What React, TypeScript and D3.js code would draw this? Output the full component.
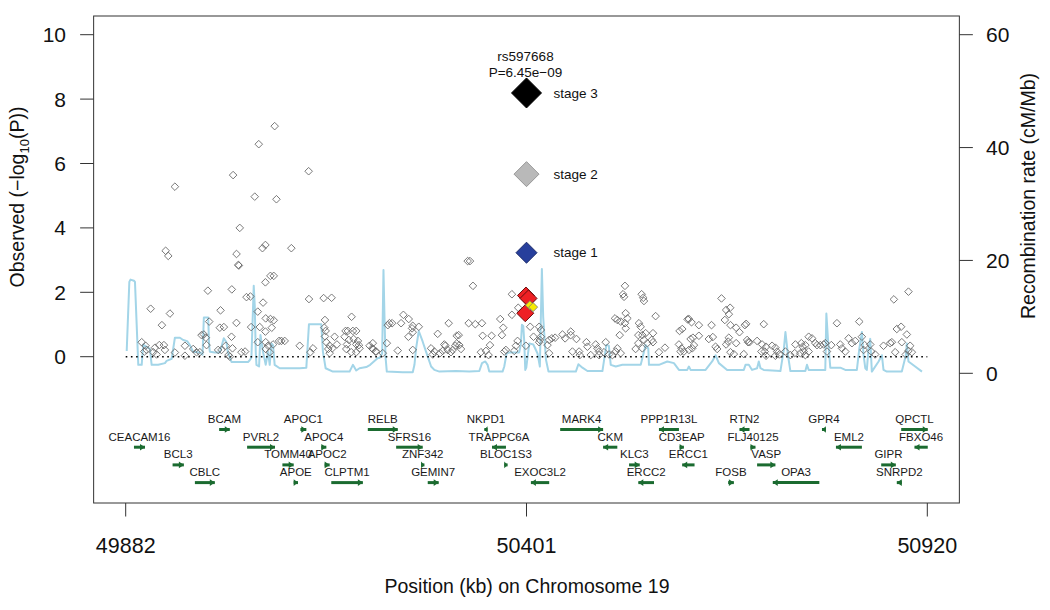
import React from "react";
import * as d3 from "d3";

// ---------- DATA ----------
const xTicks = [49882, 50401, 50920];
const yTicks = [0, 2, 4, 6, 8, 10];
const recombTicks = [0, 20, 40, 60];

// gray SNPs: [position kb, -log10 P]
const snps: [number, number][] = [
  [49902.7,0.45],[49907.8,0.34],[49909.1,0.21],[49906.1,0.16],[49914.3,1.49],[49919.9,0.28],[49925.5,0.36],[49917.7,0.14],
  [49922.0,0.07],[49931.5,0.36],[49932.8,0.21],[49928.9,0.98],[49939.3,1.34],[49945.7,0.13],[49958.7,0.34],[49958.7,0.03],
  [49969.4,0.24],[49973.7,0.14],[49978.0,0.14],[49980.2,0.67],[49983.2,0.69],[49985.8,0.59],[49986.7,0.36],[49990.1,1.09],
  [49988.4,2.05],[50004.8,1.44],[50003.9,0.90],[50009.1,0.92],[50001.7,0.21],[50006.0,0.21],[50011.6,0.34],[50015.1,0.05],
  [50016.8,0.0],[50019.0,0.62],[50020.3,0.26],[50019.4,2.09],[50025.4,1.05],[50031.9,0.14],[50036.6,0.16],[50038.4,1.85],
  [50043.5,1.87],[50044.4,0.92],[50053.0,1.40],[50059.9,1.68],[50055.6,0.92],[50063.3,1.19],[50069.4,1.17],[50073.7,1.13],
  [50062.9,0.78],[50071.1,0.90],[50053.0,0.45],[50063.3,0.45],[50066.4,0.34],[50068.5,0.14],[50063.3,0.24],[50072.8,0.38],
  [50080.6,0.49],[50083.6,0.49],[50087.9,0.49],[50107.3,0.34],[50119.3,1.79],[50124.5,0.26],[50121.1,0.14],[50138.3,1.82],
  [50148.6,1.83],[50140.0,1.14],[50139.2,0.90],[50140.9,0.80],[50140.0,0.63],[50141.8,0.45],[50146.1,0.34],[50144.3,0.24],
  [50149.5,0.26],[50152.5,0.62],[50155.5,0.38],[50146.1,0.11],[50174.5,1.24],[50166.7,0.80],[50169.7,0.80],[50176.2,0.80],
  [50180.5,0.80],[50165.4,0.62],[50171.0,0.52],[50177.1,0.55],[50182.7,0.49],[50168.5,0.38],[50180.5,0.38],[50184.0,0.36],
  [50167.6,0.24],[50174.1,0.14],[50180.5,0.14],[50184.8,0.26],[50197.8,0.34],[50202.1,0.24],[50206.4,0.16],
  [49933.7,3.29],[49937.1,3.13],[49945.7,5.28],[50021.1,5.64],[50054.3,6.6],[50074.9,7.16],[50049.1,4.97],[50077.2,4.89],
  [50118.9,5.76],[50029.7,4.0],[50059.1,3.37],[50062.9,3.47],[50096.5,3.37],[50025.5,3.19],[50027.8,2.85],[50028.5,2.83],
  [50062.9,2.31],[50069.4,2.51],[50073.7,2.51],
  [50324.8,2.97],[50327.8,2.97],[50331.7,2.20],[50382.1,1.94],[50390.3,1.52],[50382.1,1.30],[50367.0,1.17],[50370.9,0.90],
  [50369.2,0.67],[50223.5,1.04],[50221.4,0.98],[50227.0,1.04],[50241.6,1.30],[50248.5,1.17],[50238.6,1.04],[50253.7,0.96],
  [50252.8,0.88],[50261.5,0.93],[50248.1,0.62],[50253.7,0.76],[50220.1,0.42],[50234.3,0.19],[50253.7,0.21],[50202.0,0.42],
  [50201.1,0.26],[50205.5,0.16],[50214.9,0.11],[50286.0,0.71],[50300.2,1.04],[50277.4,0.26],[50281.7,0.16],[50289.0,0.11],
  [50294.6,0.38],[50298.9,0.21],[50295.9,0.34],[50303.2,0.14],[50308.8,0.34],[50310.6,0.41],[50314.0,0.36],[50313.2,0.67],
  [50310.6,0.65],[50316.2,0.24],[50305.4,0.21],[50292.5,0.18],[50279.6,0.07],[50326.1,1.04],[50334.7,1.01],[50343.3,1.04],
  [50344.2,0.65],[50355.8,0.65],[50353.7,0.36],[50342.0,0.14],[50348.5,0.18],[50351.9,0.05],[50372.2,0.16],[50374.3,0.21],
  [50387.3,0.34],[50385.1,0.18],[50389.4,0.49],[50400.2,0.34],[50405.8,0.93],[50417.4,0.93],[50419.6,0.83],[50410.1,0.62],
  [50419.6,0.62],[50418.3,0.52],[50417.4,0.45],[50430.3,0.52],[50433.8,0.57],[50438.1,0.59],[50430.3,0.11],[50428.2,0.36],
  [50447.6,0.69],[50451.0,0.57],[50458.3,0.78],[50458.3,0.67],[50465.7,0.55],[50460.5,0.16],[50469.1,0.16],[50470.0,0.05],
  [50478.6,0.45],[50479.9,0.31],[50484.2,0.05],[50490.6,0.38],[50492.8,0.26],[50494.9,0.16],[50494.9,0.05],[50503.6,0.45],
  [50501.4,0.14],[50507.9,0.07],[50516.5,0.16],[50512.2,0.05],[50518.6,0.26],[50523.0,0.11],[50528.5,2.20],[50526.0,1.94],
  [50527.3,1.86],[50550.1,1.94],[50552.2,1.83],[50553.1,1.73],[50515.6,1.19],[50518.6,1.14],[50523.0,1.09],[50529.4,1.35],
  [50531.6,1.19],[50528.5,1.04],[50529.4,0.88],[50521.7,0.67],[50546.6,1.04],[50548.8,0.93],[50545.8,0.67],[50551.0,0.67],
  [50555.3,0.73],[50553.1,0.52],[50545.8,0.42],[50557.4,0.42],[50542.3,0.24],[50551.0,0.26],[50609.6,1.16],
  [50568.2,1.26],[50564.8,0.73],[50563.1,0.52],[50564.8,0.45],[50572.5,0.14],[50580.3,0.28],[50653.5,1.81],[50659.5,1.45],
  [50664.7,1.52],[50663.0,1.32],[50657.8,1.14],[50665.1,0.98],[50672.5,0.90],[50676.8,0.76],[50685.4,1.02],[50683.7,0.98],
  [50663.0,0.59],[50659.5,0.38],[50662.1,0.47],[50672.5,0.42],[50688.0,0.45],[50686.7,0.52],[50689.7,0.45],[50682.4,0.08],
  [50669.5,0.08],[50665.1,0.14],[50599.2,0.80],[50602.7,0.86],[50611.3,1.17],[50614.7,1.07],[50624.2,0.98],[50616.5,0.59],
  [50624.2,0.65],[50613.5,0.55],[50598.4,0.38],[50601.8,0.26],[50600.5,0.16],[50617.8,0.36],[50615.6,0.26],[50611.3,0.21],
  [50604.8,0.16],[50637.1,0.55],[50642.3,0.61],[50640.6,0.98],[50647.9,0.24],[50645.8,0.31],[50708.2,1.01],[50699.6,0.49],
  [50706.1,0.38],[50711.2,0.31],[50705.2,0.16],[50709.5,0.16],[50711.2,0.03],[50719.0,0.34],[50723.3,0.28],[50725.5,0.16],
  [50723.3,0.03],[50728.5,0.07],[50736.2,0.16],[50742.7,0.05],[50749.2,0.38],[50748.3,0.11],[50756.9,0.42],[50758.6,0.31],
  [50762.1,0.36],[50759.9,0.16],[50766.4,0.62],[50770.7,0.57],[50775.0,0.42],[50777.2,0.36],[50781.5,0.36],[50785.8,0.38],
  [50787.9,0.42],[50795.7,0.36],[50790.1,0.16],[50766.4,0.16],[50755.6,0.11],[50762.1,0.05],[50803.0,1.04],[50807.3,0.38],
  [50809.5,0.26],[50813.8,0.16],[50818.1,0.57],[50822.4,0.42],[50826.7,0.49],[50831.9,1.09],[50835.3,0.62],[50838.8,0.36],
  [50837.5,0.21],[50846.1,0.38],[50847.4,0.16],[50852.5,0.07],[50863.3,0.34],[50871.9,0.42],[50874.1,0.45],[50880.5,0.86],
  [50886.1,0.93],[50893.5,0.69],[50887.0,0.45],[50878.4,0.14],[50876.7,1.78],[50895.6,2.02],[50897.8,0.34],[50895.6,0.18],
  [50892.2,0.07],[50900.0,0.14]
];

// highlighted SNPs
const redSnps: [number, number][] = [[50400.3,1.90],[50403.6,1.81],[50399.4,1.35]];
const yellowSnps: [number, number][] = [[50405.4,1.60],[50409.6,1.54]];
const stageNames = ["stage 1", "stage 2", "stage 3"];
const stageLogP = [3.23, 5.67, 8.19];
const stagePos = 50401;
const leadSnp = "rs597668";
const leadP = "P=6.45e\u221209";

// recombination rate: [position kb, cM/Mb]
const recomb: [number, number][] = [
  [49883.3,3.95],[49886.7,16.2],[49888.2,16.6],[49892.7,16.4],[49894.0,16.2],[49898.3,1.5],[49902.7,1.5],[49904.7,5.1],
  [49909.1,4.7],[49913.4,4.3],[49915.6,1.5],[49924.1,1.5],[49932.8,1.8],[49935.0,2.2],[49941.5,2.55],[49945.7,6.3],
  [49952.2,6.3],[49956.4,5.9],[49961.6,5.7],[49965.1,5.0],[49969.4,3.8],[49978.0,3.7],[49981.5,3.3],[49983.2,9.9],
  [49988.8,9.9],[49990.0,5.0],[49991.0,3.8],[49997.4,3.7],[50003.9,3.7],[50009.0,6.2],[50012.5,5.5],[50014.2,3.8],
  [50019.0,2.0],[50034.0,2.0],[50040.4,2.0],[50042.6,2.3],[50044.8,2.8],[50047.8,15.5],[50049.1,12.0],[50050.4,3.8],
  [50051.3,1.5],[50054.7,1.2],[50056.5,6.8],[50059.8,3.8],[50063.3,1.5],[50066.3,3.8],[50068.5,1.5],[50070.7,5.3],
  [50072.8,5.0],[50074.9,1.5],[50081.4,0.9],[50107.3,0.9],[50115.9,1.0],[50119.3,8.7],[50135.3,8.7],[50137.4,3.8],
  [50140.9,0.9],[50150.3,0.3],[50171.9,0.3],[50176.2,1.5],[50180.5,0.5],[50184.8,0.9],[50193.5,1.1],[50198.6,1.5],
  [50208.5,2.7],[50210.6,2.7],[50214.1,3.5],[50215.8,18.3],[50217.1,10],[50218.4,3.0],[50220.1,0.3],[50240.8,0.2],
  [50253.7,0.2],[50255.9,1.5],[50258.1,4.5],[50261.5,7.5],[50266.6,5.6],[50271.0,3.8],[50277.5,1.2],[50281.7,0.6],
  [50288.2,0.3],[50309.8,0.4],[50326.9,0.3],[50339.9,0.4],[50343.4,1.8],[50347.7,2.1],[50350.6,1.5],[50352.8,0.3],
  [50370.0,0.3],[50372.2,1.2],[50375.2,3.5],[50378.7,3.7],[50391.6,3.7],[50393.8,5.3],[50395.1,8.6],[50396.8,8.4],
  [50398.1,5.6],[50399.4,0.6],[50400.7,1.0],[50404.6,5.3],[50409.8,5.1],[50415.3,3.5],[50418.3,1.2],[50420.9,18.5],
  [50422.6,10],[50426.1,2.5],[50429.5,0.3],[50464.9,0.3],[50468.2,1.6],[50473.4,1.0],[50479.9,0.4],[50499.3,0.4],
  [50504.4,5.0],[50507.6,4.9],[50510.1,1.5],[50516.6,1.2],[50525.1,1.5],[50542.4,1.5],[50548.9,1.5],[50555.3,5.0],
  [50558.7,4.4],[50559.6,1.5],[50572.5,1.5],[50583.3,2.1],[50591.9,1.8],[50598.4,0.6],[50609.1,0.6],[50611.3,1.2],
  [50613.5,0.6],[50632.9,0.6],[50641.4,2.1],[50645.8,3.2],[50650.1,1.8],[50660.8,0.6],[50682.4,0.6],[50684.6,1.5],
  [50688.9,1.5],[50693.1,0.6],[50699.6,0.9],[50701.8,2.1],[50704.0,0.9],[50708.2,0.6],[50729.8,0.4],[50734.1,4.1],
  [50736.3,7.3],[50739.6,3.2],[50742.7,0.4],[50762.1,0.4],[50764.2,1.5],[50766.4,0.6],[50787.9,0.6],[50789.3,10.6],
  [50791.3,6.2],[50794.4,1.0],[50807.4,1.0],[50813.8,0.6],[50828.8,0.6],[50832.0,4.4],[50835.3,7.3],[50837.5,3.2],
  [50839.7,0.9],[50841.7,0.6],[50843.9,4.4],[50846.1,6.1],[50848.2,0.3],[50856.9,2.1],[50861.2,3.2],[50863.3,0.6],
  [50867.6,0.3],[50887.0,0.3],[50892.2,3.2],[50893.5,5.3],[50895.6,2.1],[50904.3,1.2],[50913.1,0.3]
];

// genes: name, start kb, end kb, strand, row
const geneNames = ["CEACAM16","BCAM","BCL3","CBLC","PVRL2","APOC1","APOC4","TOMM40","APOC2","APOE","CLPTM1","RELB",
  "SFRS16","ZNF342","GEMIN7","NKPD1","TRAPPC6A","BLOC1S3","EXOC3L2","MARK4","CKM","KLC3","ERCC2","PPP1R13L","CD3EAP",
  "ERCC1","RTN2","FLJ40125","VASP","FOSB","OPA3","GPR4","EML2","GIPR","SNRPD2","QPCTL","FBXO46"];
const geneStart = [49892.7,50003.0,49942.7,49971.6,50039.2,50108.2,50135.3,50084.9,50139.6,50099.5,50148.2,50195.5,
  50232.2,50264.5,50273.1,50346.4,50356.3,50372.2,50406.7,50444.6,50500.2,50533.8,50545.8,50572.5,50599.3,
  50602.6,50676.8,50691.0,50699.6,50662.1,50719.9,50783.6,50801.7,50860.3,50880.5,50886.2,50903.4];
const geneEnd = [49907.0,50016.8,49957.3,49997.4,50075.3,50115.9,50141.8,50099.5,50146.1,50105.1,50189.1,50234.3,
  50266.6,50268.8,50287.3,50350.6,50374.4,50376.5,50430.4,50500.2,50518.6,50547.6,50566.1,50598.4,50604.8,
  50618.6,50689.8,50697.5,50723.3,50669.5,50780.2,50788.7,50835.3,50879.2,50887.0,50920.6,50920.6];
const geneStrand = [1,1,1,1,1,1,1,1,1,1,1,1, 1,1,1,-1,-1,1,-1,1,-1,1,-1,-1,1, -1,-1,1,1,1,-1,-1,-1,1,-1,1,-1];
const geneRow = [1,0,2,3,1,0,1,2,2,3,3,0, 1,2,3,0,1,2,3,0,1,2,3,0,1, 2,0,1,2,3,3,0,1,2,3,0,1];

// ---------- LAYOUT ----------
const W = 1050, H = 610;
const FONT = "Arial, 'Liberation Sans', Helvetica, sans-serif";
const GREEN = "#1b6b30";

const x = d3.scaleLinear().domain([49882, 50920]).range([125.7, 927.3]);
const y = d3.scaleLinear().domain([0, 10]).range([356.7, 34.7]);
const yr = d3.scaleLinear().domain([0, 60]).range([373.3, 34.7]);
const pad = (50920 - 49882) * 0.04;
const frameL = x(49882 - pad), frameR = x(50920 + pad);
const frameT = 16, frameB = 503;
const rowY0 = 429.5, rowStep = 17.7;

const diamond = (cx: number, cy: number, r: number) =>
  `M${cx},${cy - r}L${cx + r},${cy}L${cx},${cy + r}L${cx - r},${cy}Z`;

export default function App() {
  const recombLine = d3.line<[number, number]>().x(d => x(d[0])).y(d => yr(d[1]))(recomb) || "";
  const stageFill = ["#273f9c", "#b9b9b9", "#000000"];
  const stageStroke = ["#1a2a6a", "#999999", "#000000"];
  const stageR = [10.5, 12.5, 15];

  return (
    <svg width={W} height={H} style={{ position: "absolute", left: 0, top: 0, background: "#fff" }}
      fontFamily={FONT}>
      <rect x={0} y={0} width={W} height={H} fill="#fff" />
      {/* recombination line */}
      <path d={recombLine} fill="none" stroke="#a3d5e8" strokeWidth={2} strokeLinejoin="round" />
      {/* zero dotted line */}
      <line x1={x(49882)} x2={x(50920)} y1={y(0)} y2={y(0)} stroke="#000" strokeWidth={1.6}
        strokeDasharray="1.6,3.6" />
      {/* gray snps */}
      {snps.map((d, i) => (
        <path key={i} d={diamond(x(d[0]), y(d[1]), 3.8)} fill="none" stroke="#6a6a6a" strokeWidth={0.9} />
      ))}
      {/* red and yellow */}
      {redSnps.map((d, i) => (
        <path key={"r" + i} d={diamond(x(d[0]), y(d[1]), 8.5)} fill="#ee2024" stroke="#6a1010" strokeWidth={1} />
      ))}
      {yellowSnps.map((d, i) => (
        <path key={"yy" + i} d={diamond(x(d[0]), y(d[1]), 4.5)} fill="#f6ea00" stroke="#777" strokeWidth={0.8} />
      ))}
      {/* stages */}
      {stageLogP.map((v, i) => (
        <g key={"s" + i}>
          <path d={diamond(x(stagePos), y(v), stageR[i])} fill={stageFill[i]} stroke={stageStroke[i]} strokeWidth={1} />
          <text x={x(stagePos) + 27} y={y(v) + 4.8} fontSize={13.5} fill="#111">{stageNames[i]}</text>
        </g>
      ))}
      <text x={x(stagePos) - 1} y={61} fontSize={13.5} textAnchor="middle" fill="#111">{leadSnp}</text>
      <text x={x(stagePos) - 1} y={76.5} fontSize={13.5} textAnchor="middle" fill="#111">{leadP}</text>

      {/* genes */}
      {geneNames.map((g, i) => {
        const x1 = x(geneStart[i]), x2 = x(geneEnd[i]);
        const cy = rowY0 + geneRow[i] * rowStep;
        const head = 5, hh = 3.3;
        const tip = geneStrand[i] > 0 ? x2 : x1;
        const base = tip - geneStrand[i] * Math.min(head, Math.max(x2 - x1, 3));
        return (
          <g key={"g" + i}>
            <line x1={x1} x2={x2} y1={cy} y2={cy} stroke={GREEN} strokeWidth={3} />
            <path d={`M${tip},${cy}L${base},${cy - hh}L${base},${cy + hh}Z`} fill={GREEN} />
            <text x={(x1 + x2) / 2} y={cy - 6.5} fontSize={11.5} textAnchor="middle" fill="#1a1a1a">{g}</text>
          </g>
        );
      })}

      {/* frame */}
      <rect x={frameL} y={frameT} width={frameR - frameL} height={frameB - frameT} fill="none" stroke="#333" strokeWidth={1} />

      {/* left axis */}
      {yTicks.map(t => (
        <g key={"yt" + t}>
          <line x1={frameL - 13.5} x2={frameL} y1={y(t)} y2={y(t)} stroke="#333" strokeWidth={1} />
          <text x={66} y={y(t) + 7.5} fontSize={21} textAnchor="end" fill="#111">{t}</text>
        </g>
      ))}
      {/* right axis */}
      {recombTicks.map(t => (
        <g key={"rt" + t}>
          <line x1={frameR} x2={frameR + 13.5} y1={yr(t)} y2={yr(t)} stroke="#333" strokeWidth={1} />
          <text x={986} y={yr(t) + 7.5} fontSize={21} textAnchor="start" fill="#111">{t}</text>
        </g>
      ))}
      {/* bottom axis */}
      {xTicks.map(t => (
        <g key={"xt" + t}>
          <line x1={x(t)} x2={x(t)} y1={frameB} y2={frameB + 13.5} stroke="#333" strokeWidth={1} />
          <text x={x(t)} y={553} fontSize={21.5} textAnchor="middle" fill="#111">{t}</text>
        </g>
      ))}
      <text x={527} y={593} fontSize={19.5} textAnchor="middle" fill="#111">Position (kb) on Chromosome 19</text>
      <text transform={`translate(24,${197}) rotate(-90)`} fontSize={19.5} textAnchor="middle" fill="#111">
        Observed ({"\u2212"}log<tspan fontSize={13} dy={5}>10</tspan><tspan dy={-5}>(P))</tspan>
      </text>
      <text transform={`translate(1035,${196}) rotate(-90)`} fontSize={19.5} textAnchor="middle" fill="#111">
        Recombination rate (cM/Mb)
      </text>
    </svg>
  );
}
